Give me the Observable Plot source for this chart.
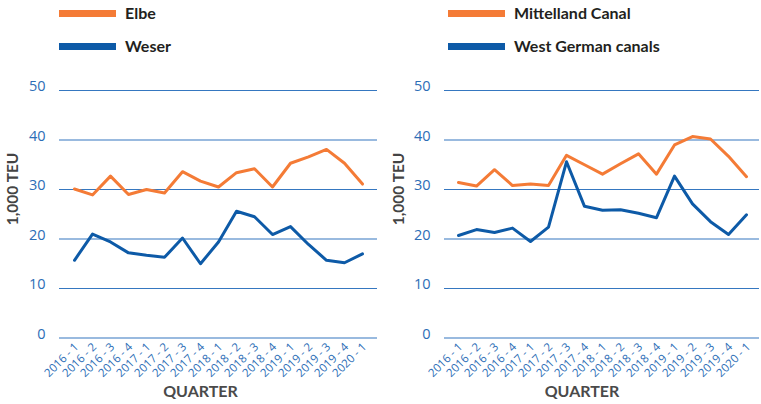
<!DOCTYPE html>
<html>
<head>
<meta charset="utf-8">
<script src="https://cdn.jsdelivr.net/npm/d3@7"></script>
<script src="https://cdn.jsdelivr.net/npm/@observablehq/plot@0.6"></script>
<style>
  html, body { margin: 0; padding: 0; background: #fff; }
  #wrap { display: flex; width: 761px; height: 404px; overflow: hidden; }
  .panel { position: relative; }
  .legend { position: relative; height: 60px; font-family: Lato, sans-serif; font-weight: 700; font-size: 16px; color: #231f20; }
  .legend .sw { position: absolute; height: 7px; width: 57px; }
  .legend .lb { position: absolute; line-height: 16px; }
  svg { display: block; }
</style>
</head>
<body>
<div id="wrap"></div>
<script>
const quarters = ["2016 - 1","2016 - 2","2016 - 3","2016 - 4","2017 - 1","2017 - 2","2017 - 3","2017 - 4","2018 - 1","2018 - 2","2018 - 3","2018 - 4","2019 - 1","2019 - 2","2019 - 3","2019 - 4","2020 - 1"];
const elbe = [30.1,28.9,32.7,29.0,30.0,29.3,33.6,31.7,30.5,33.4,34.2,30.5,35.3,36.6,38.1,35.3,31.1];
const weser = [15.7,21.0,19.4,17.2,16.7,16.3,20.2,15.0,19.4,25.6,24.5,20.9,22.5,18.9,15.7,15.2,17.0];
const mittelland = [31.4,30.7,34.0,30.8,31.1,30.8,36.9,35.0,33.1,35.2,37.2,33.1,39.0,40.7,40.2,36.7,32.6];
const westGerman = [20.7,21.9,21.3,22.2,19.5,22.4,35.6,26.6,25.8,25.9,25.2,24.3,32.7,27.1,23.5,20.9,24.9];
const yTicks = [0,10,20,30,40,50];
const panels = [
  {series: [["Elbe", elbe], ["Weser", weser]], width: 380, ml: 59, mr: 3, pad: 0.45, legendX: 59, yTitleDx: -46, qDx: -18},
  {series: [["Mittelland Canal", mittelland], ["West German canals", westGerman]], width: 381, ml: 64, mr: 2, pad: 0.47, legendX: 68, yTitleDx: -45, qDx: -20}
];
const colors = ["#f47b36", "#0d5aa7"];
const gridColor = "#3577c0";
const tickColor = "#2c6db6";

const wrap = document.getElementById("wrap");
panels.forEach((p) => {
  const panel = document.createElement("div");
  panel.className = "panel";
  panel.style.width = p.width + "px";
  const legend = document.createElement("div");
  legend.className = "legend";
  p.series.forEach(([name], i) => {
    const sw = document.createElement("div");
    sw.className = "sw";
    sw.style.left = p.legendX + "px";
    sw.style.top = (i === 0 ? 9.5 : 42.5) + "px";
    sw.style.background = colors[i];
    const lb = document.createElement("div");
    lb.className = "lb";
    lb.style.left = (p.legendX + 66) + "px";
    lb.style.top = (i === 0 ? 5 : 38) + "px";
    lb.textContent = name;
    legend.appendChild(sw);
    legend.appendChild(lb);
  });
  panel.appendChild(legend);

  const rows = [];
  p.series.forEach(([name, vals], si) => {
    vals.forEach((v, i) => rows.push({series: name, q: quarters[i], v, c: colors[si]}));
  });

  const chart = Plot.plot({
    width: p.width,
    height: 344,
    marginLeft: p.ml,
    marginRight: p.mr,
    marginTop: 30,
    marginBottom: 66.5,
    style: {fontFamily: "'Open Sans', sans-serif", background: "transparent", overflow: "visible"},
    x: {type: "point", domain: quarters, padding: p.pad, label: null},
    y: {domain: [0, 50], label: null},
    marks: [
      Plot.ruleY(yTicks, {stroke: gridColor, strokeWidth: 1.2}),
      Plot.axisY(yTicks, {tickSize: 0, tickPadding: 14, dy: -4, fontSize: 14.5, fill: tickColor, label: null}),
      Plot.axisX(quarters, {tickSize: 0, tickRotate: -45, tickPadding: 7, dx: 2, fontSize: 11.5, fill: tickColor, label: null}),
      Plot.line(rows, {x: "q", y: "v", z: "series", stroke: "c", strokeWidth: 3}),
      Plot.text(["1,000 TEU"], {frameAnchor: "left", rotate: -90, dx: p.yTitleDx, dy: 11, fontSize: 15.5, fontWeight: 700, fill: "#444", fontFamily: "Lato, sans-serif"}),
      Plot.text(["QUARTER"], {frameAnchor: "bottom", dy: 58.5, dx: p.qDx, fontSize: 16, fontWeight: 700, fill: "#4a4a4a", fontFamily: "Lato, sans-serif"})
    ]
  });
  panel.appendChild(chart);
  wrap.appendChild(panel);
});
</script>
</body>
</html>
